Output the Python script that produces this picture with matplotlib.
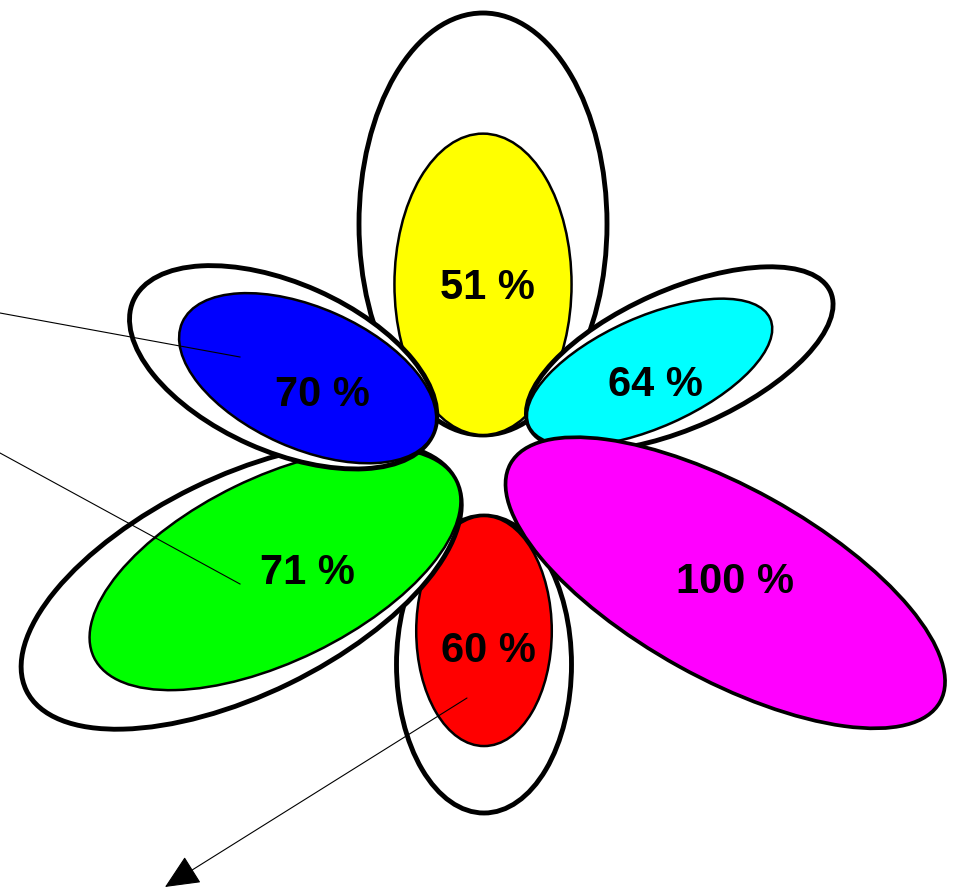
import numpy as np
import matplotlib
matplotlib.use('Agg')
import matplotlib.pyplot as plt
from matplotlib.patches import Ellipse

# petal values (percent) and colours, listed in drawing order
labels = ['51 %', '64 %', '60 %', '100 %', '71 %', '70 %']
values = [51, 64, 60, 100, 71, 70]
colors = ['#ffff00', '#00ffff', '#ff0000', '#ff00ff', '#00ff00', '#0000ff']

# petal layout: base point near flower centre, outward angle, full-size length/width
base_x = [483, 529, 484, 511, 456, 433]
base_y = [455, 464, 374, 426, 409, 456]
angles = [90, 24, -90, -29, 206, 156]
lengths = [422, 330, 297, 490, 478, 328]
widths = [248, 138, 175, 190, 218, 168]
text_x = [487, 655, 488, 735, 307, 322]
text_y = [602, 505, 239, 308, 317, 495]

fig = plt.figure(figsize=(9.57, 8.9), dpi=100)
ax = fig.add_axes([0, 0, 1, 1])
ax.set_xlim(0, 957)
ax.set_ylim(0, 890)
ax.axis('off')

def petal(bx, by, ang, L, W, **kw):
    t = np.deg2rad(ang)
    cx = bx + L / 2 * np.cos(t)
    cy = by + L / 2 * np.sin(t)
    ax.add_patch(Ellipse((cx, cy), L, W, angle=ang, **kw))

for i in range(len(values)):
    # outer petal = 100 %
    petal(base_x[i], base_y[i], angles[i], lengths[i], widths[i],
          facecolor='white', edgecolor='black', lw=3.5)
    # inner petal scaled so area matches the value
    s = np.sqrt(values[i] / 100)
    petal(base_x[i], base_y[i], angles[i], lengths[i] * s, widths[i] * s,
          facecolor=colors[i], edgecolor='black', lw=1.8)

for i in range(len(labels)):
    ax.text(text_x[i], text_y[i], labels[i], ha='center', va='center',
            fontsize=30, fontweight='bold', family='Liberation Sans')

# pointer lines
ax.plot([0, 240], [577, 533], color='black', lw=0.8)
ax.plot([0, 240], [437, 306], color='black', lw=0.8)
ax.annotate('', xy=(165, 3), xytext=(467, 192),
            arrowprops=dict(arrowstyle='-|>,head_length=1.1,head_width=0.5',
                            color='black', lw=0.8, mutation_scale=20,
                            shrinkA=0, shrinkB=0))

fig.savefig('out.png', dpi=100, facecolor='white')
